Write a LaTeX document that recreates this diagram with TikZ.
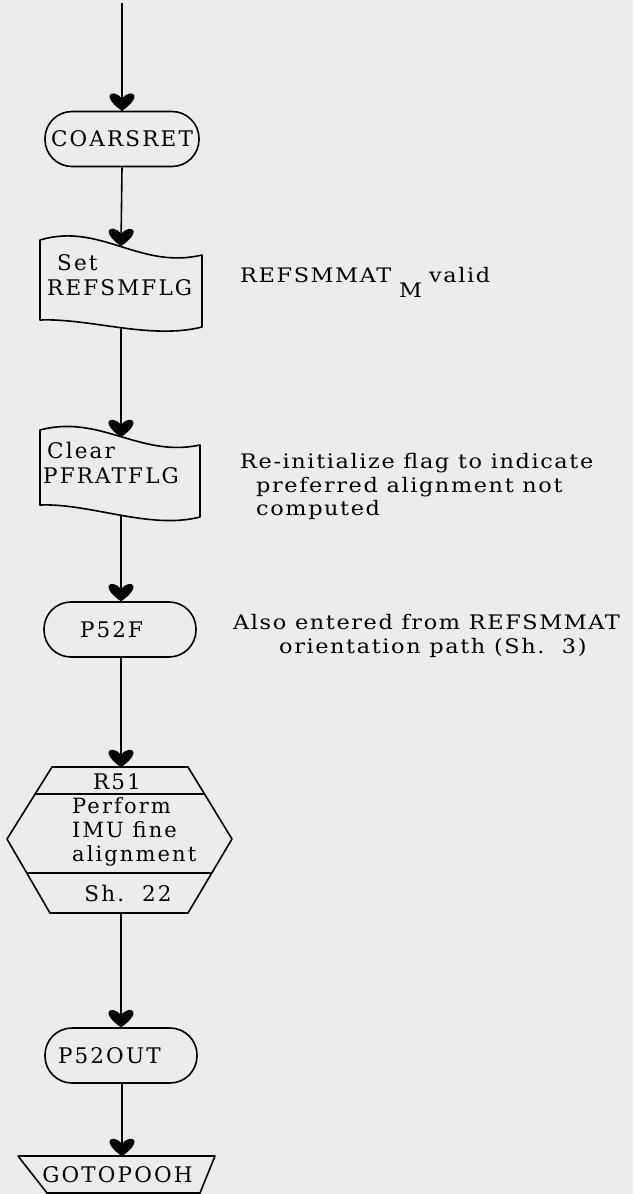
\documentclass[tikz,border=0pt]{standalone}
\usepackage{fontspec}
\setmainfont{DejaVu Serif}
\newfontfamily\boxfont[LetterSpace=10]{DejaVu Serif}
\newfontfamily\notefont[FakeStretch=1.12, LetterSpace=8]{DejaVu Serif}
\usetikzlibrary{decorations.markings}
\definecolor{paper}{RGB}{236,236,236}
\tikzset{
  x=1pt, y=-1pt,
  outline/.style={draw=black, line width=1.6pt, line join=round},
  term/.style={outline, rounded corners=27pt, minimum height=55pt, inner ysep=0pt,
    font=\boxfont\fontsize{21.5}{25}\selectfont},
  boxtext/.style={inner sep=0pt, align=left, font=\boxfont\fontsize{21.5}{25}\selectfont},
  notetext/.style={anchor=base west, inner sep=0pt, font=\notefont\fontsize{20}{24}\selectfont},
  flow/.style={line width=1.6pt, postaction={decorate},
    decoration={markings, mark=at position 1 with {
      \fill[black] (0pt,0pt) .. controls (-3pt,5pt) and (-10pt,13pt) .. (-15pt,12.5pt)
        .. controls (-18.5pt,11.5pt) and (-18.5pt,5pt) .. (-12pt,0pt)
        .. controls (-18.5pt,-5pt) and (-18.5pt,-11.5pt) .. (-15pt,-12.5pt)
        .. controls (-10pt,-13pt) and (-3pt,-5pt) .. (0pt,0pt) -- cycle;}}},
}
\begin{document}
\begin{tikzpicture}
  \fill[paper] (0,0) rectangle (633,1194);
  \useasboundingbox (0,0) rectangle (633,1194);

  % entry
  \coordinate (entry) at (122,3);
  \node[term, minimum width=154pt, inner xsep=0pt] (coarsret) at (122,139) {COARSRET};

  % Set REFSMFLG (punched-tape box)
  \draw[outline] (40,240) .. controls (100,222) and (140,270) .. (202,255)
    -- (202,327) .. controls (150,340) and (90,318) .. (40,320) -- cycle;
  \coordinate (setIn) at (121,246);
  \coordinate (setOut) at (121,328);
  \node[boxtext, anchor=west] (setflg) at (47,275) {\hspace*{10pt}Set\\REFSMFLG};

  % Clear PFRATFLG (punched-tape box)
  \draw[outline] (40,430) .. controls (100,414) and (140,458) .. (200,445)
    -- (200,517) .. controls (150,530) and (90,503) .. (40,505) -- cycle;
  \coordinate (clearIn) at (121,437);
  \coordinate (clearOut) at (121,515);
  \node[boxtext, anchor=west] (clrflg) at (43,462.5) {\hspace*{4pt}Clear\\PFRATFLG};

  % P52F
  \node[term, text width=80pt, inner xsep=36pt, align=left] (p52f) at (120,629.5) {P52F};

  % R51 hexagon
  \draw[outline] (52,767) -- (188,767) -- (232,839) -- (188,913) -- (50,913) -- (7,839) -- cycle;
  \draw[outline] (35.1,794) -- (204.5,794);
  \draw[outline] (26.8,873) -- (211.8,873);
  \coordinate (hexIn) at (121,767);
  \coordinate (hexOut) at (121,913);
  \node[boxtext] (r51) at (117,782) {R51};
  \node[boxtext, anchor=west, font=\boxfont\fontsize{21}{24}\selectfont] (r51body) at (72,832) {Perform\\IMU fine\\alignment};
  \node[boxtext] (r51sheet) at (128,893) {Sh.\ \ 22};

  % P52OUT
  \node[term, text width=126pt, inner xsep=13pt, align=left] (p52out) at (121,1055.5) {P52OUT};

  % GOTOPOOH trapezoid
  \draw[outline] (18,1156) -- (215,1156) -- (200,1193) -- (47,1193) -- cycle;
  \coordinate (gotoIn) at (122,1156);
  \node[boxtext] (gotopooh) at (117.5,1175) {GOTOPOOH};

  % flow lines
  \draw[flow] (entry) -- (coarsret.north);
  \draw[flow] (coarsret.south) -- (setIn);
  \draw[flow] (setOut) -- (clearIn);
  \draw[flow] (clearOut) -- (p52f.north -| clearOut);
  \draw[flow] (p52f.south -| hexIn) -- (hexIn);
  \draw[flow] (hexOut) -- (p52out.north -| hexOut);
  \draw[flow] (p52out.south -| gotoIn) -- (gotoIn);

  % notes
  \node[notetext] (n1) at (240,282) {REFSMMAT};
  \node[notetext] (n1sub) at (399,297) {M};
  \node[notetext] (n1end) at (429,282) {valid};

  \node[notetext] (n2a) at (240,468) {Re-initialize flag to indicate};
  \node[notetext] (n2b) at (256,492) {preferred alignment not};
  \node[notetext] (n2c) at (256,515) {computed};

  \node[notetext] (n3a) at (233,629) {Also entered from REFSMMAT};
  \node[notetext] (n3b) at (279,653) {orientation path (Sh.\ \ 3)};
\end{tikzpicture}
\end{document}
